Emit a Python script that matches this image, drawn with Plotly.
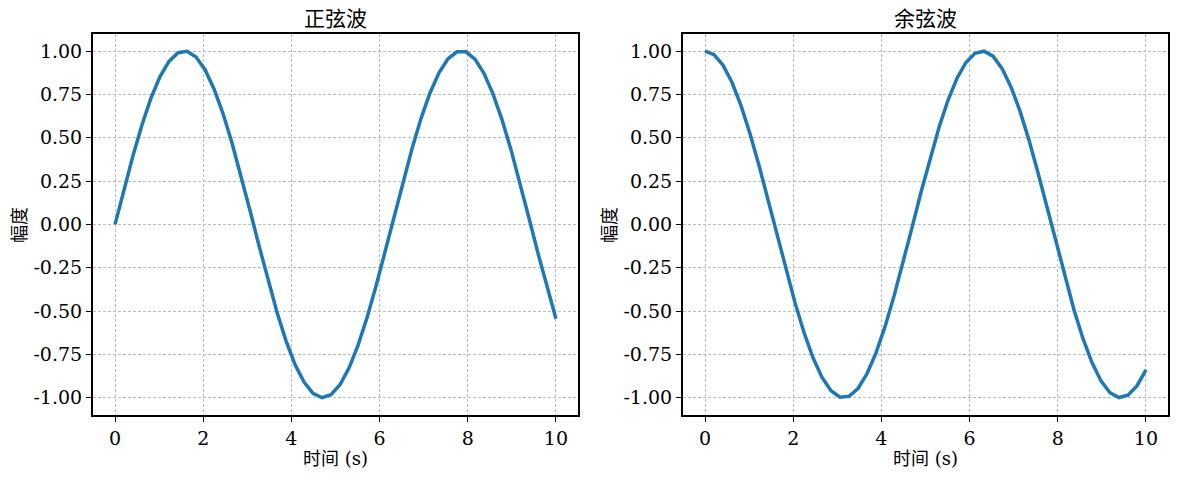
import plotly.graph_objects as go

# x samples (s)
x_vals = [0.000, 0.204, 0.408, 0.612, 0.816, 1.020, 1.224, 1.429, 1.633, 1.837,
          2.041, 2.245, 2.449, 2.653, 2.857, 3.061, 3.265, 3.469, 3.673, 3.878,
          4.082, 4.286, 4.490, 4.694, 4.898, 5.102, 5.306, 5.510, 5.714, 5.918,
          6.122, 6.327, 6.531, 6.735, 6.939, 7.143, 7.347, 7.551, 7.755, 7.959,
          8.163, 8.367, 8.571, 8.776, 8.980, 9.184, 9.388, 9.592, 9.796, 10.000]

sine_vals = [0.000, 0.203, 0.397, 0.575, 0.729, 0.852, 0.940, 0.990, 0.998, 0.965,
             0.892, 0.781, 0.639, 0.469, 0.281, 0.080, -0.123, -0.322, -0.507, -0.672,
             -0.808, -0.910, -0.975, -1.000, -0.983, -0.925, -0.829, -0.698, -0.539, -0.357,
             -0.160, 0.043, 0.245, 0.436, 0.610, 0.758, 0.874, 0.955, 0.995, 0.995,
             0.953, 0.871, 0.753, 0.604, 0.431, 0.239, 0.037, -0.166, -0.363, -0.544]

cosine_vals = [1.000, 0.979, 0.918, 0.818, 0.685, 0.523, 0.340, 0.142, -0.062, -0.263,
               -0.453, -0.624, -0.770, -0.883, -0.960, -0.997, -0.992, -0.947, -0.862, -0.741,
               -0.590, -0.414, -0.221, -0.019, 0.185, 0.380, 0.559, 0.716, 0.843, 0.934,
               0.987, 0.999, 0.970, 0.900, 0.793, 0.653, 0.486, 0.298, 0.099, -0.105,
               -0.304, -0.492, -0.658, -0.797, -0.903, -0.971, -0.999, -0.986, -0.932, -0.839]

titles = ["正弦波", "余弦波"]
x_label = "时间 (s)"
y_label = "幅度"

x_ticks = [0, 2, 4, 6, 8, 10]
x_ticktext = ["0", "2", "4", "6", "8", "10"]
y_ticks = [1.0, 0.75, 0.5, 0.25, 0.0, -0.25, -0.5, -0.75, -1.0]
y_ticktext = ["1.00", "0.75", "0.50", "0.25", "0.00", "-0.25", "-0.50", "-0.75", "-1.00"]

FONT = "DejaVu Serif, Noto Sans CJK SC, serif"
LINE_COLOR = "#1f77b4"

fig = go.Figure()
fig.add_trace(go.Scatter(x=x_vals, y=sine_vals, mode="lines",
                         line=dict(color=LINE_COLOR, width=3.5), xaxis="x", yaxis="y",
                         showlegend=False))
fig.add_trace(go.Scatter(x=x_vals, y=cosine_vals, mode="lines",
                         line=dict(color=LINE_COLOR, width=3.5), xaxis="x2", yaxis="y2",
                         showlegend=False))

W, H = 1178, 477
ydom = [1 - 415 / H, 1 - 34 / H]
xdom1 = [93 / W, 578 / W]
xdom2 = [683 / W, 1168 / W]

GRID = dict(showgrid=True, gridcolor="#bdbdbd", griddash="3px,2px", gridwidth=0.7)

def xaxis(dom, anchor):
    return dict(domain=dom, anchor=anchor, range=[-0.5, 10.5],
                tickvals=x_ticks, ticktext=x_ticktext,
                showline=True, mirror=True, linecolor="black", linewidth=2,
                ticks="outside", ticklen=5, tickwidth=1.2, tickcolor="black",
                zeroline=False, tickfont=dict(family=FONT, size=19, color="black"), **GRID)

def yaxis(anchor):
    return dict(domain=ydom, anchor=anchor, range=[-1.0997, 1.0981],
                tickvals=y_ticks, ticktext=y_ticktext,
                showline=True, mirror=True, linecolor="black", linewidth=2,
                ticks="outside", ticklen=5, tickwidth=1.2, tickcolor="black",
                zeroline=False, tickfont=dict(family=FONT, size=19, color="black"), **GRID)

annotations = []
for dom, t, ylx in [(xdom1, titles[0], 19), (xdom2, titles[1], 609)]:
    cx = (dom[0] + dom[1]) / 2
    annotations.append(dict(text=t, x=cx, y=1 - 19 / H, xref="paper", yref="paper",
                            xanchor="center", yanchor="middle", showarrow=False,
                            font=dict(family=FONT, size=21, color="black")))
    annotations.append(dict(text=x_label, x=cx, y=1 - 458 / H, xref="paper", yref="paper",
                            xanchor="center", yanchor="middle", showarrow=False,
                            font=dict(family=FONT, size=18, color="black")))
    annotations.append(dict(text=y_label, x=ylx / W, y=1 - 225 / H, xref="paper", yref="paper",
                            xanchor="center", yanchor="middle", showarrow=False, textangle=-90,
                            font=dict(family=FONT, size=18, color="black")))

fig.update_layout(
    width=W, height=H,
    margin=dict(l=0, r=0, t=0, b=0),
    paper_bgcolor="white", plot_bgcolor="white",
    xaxis=xaxis(xdom1, "y"), yaxis=yaxis("x"),
    xaxis2=xaxis(xdom2, "y2"), yaxis2=yaxis("x2"),
    annotations=annotations,
    font=dict(family=FONT, color="black"),
)

fig.write_html("out.html")
